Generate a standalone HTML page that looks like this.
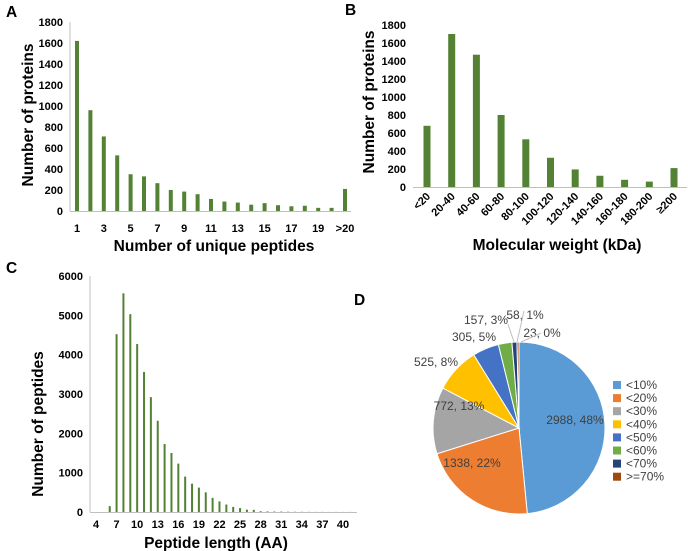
<!DOCTYPE html>
<html><head><meta charset="utf-8"><style>
html,body{margin:0;padding:0;background:#fff;}
svg{display:block;font-family:"Liberation Sans",Arial,sans-serif;}
.t{font-weight:bold;font-size:11px;fill:#000;}
.ttl{font-weight:bold;font-size:15.5px;fill:#000;}
.pl{font-size:12px;fill:#404040;}
</style></head><body>
<svg id="fig" width="688" height="551" viewBox="0 0 688 551">
<text x="6" y="17" class="ttl" font-size="14">A</text>
<text x="345" y="15" class="ttl">B</text>
<text x="6" y="273" class="ttl">C</text>
<text x="354" y="305" class="ttl">D</text>
<g id="gA"></g>
<g id="gB"></g>
<g id="gC"></g>
<g id="gD"></g>
</svg>
<script>
const aCats=["1","2","3","4","5","6","7","8","9","10","11","12","13","14","15","16","17","18","19","20",">20"];
const aVals=[1620,960,710,530,350,330,265,200,185,160,115,90,80,60,75,55,45,50,30,30,210];
const aTicks=[0,200,400,600,800,1000,1200,1400,1600,1800];
const bCats=["<20","20-40","40-60","60-80","80-100","100-120","120-140","140-160","160-180","180-200","≥200"];
const bVals=[680,1700,1470,800,530,325,195,125,80,60,210];
const bTicks=[0,200,400,600,800,1000,1200,1400,1600,1800];
const cCats=[];for(let k=4;k<=41;k++)cCats.push(String(k));
const cVals=[0,0,150,4520,5560,5030,4270,3560,2920,2320,1730,1500,1230,900,720,620,500,360,270,190,130,100,60,55,20,15,12,10,8,6,5,4,3,3,2,2,2,2];
const cTicks=[0,1000,2000,3000,4000,5000,6000];
const dCats=["<10%","<20%","<30%","<40%","<50%","<60%","<70%",">=70%"];
const dVals=[2988,1338,772,525,305,157,58,23];
const dPct=["48%","22%","13%","8%","5%","3%","1%","0%"];
const dColors=["#5B9BD5","#ED7D31","#A5A5A5","#FFC000","#4472C4","#70AD47","#264478","#9E480E"];
const NS="http://www.w3.org/2000/svg";
function mk(p,tag,at,txt){const e=document.createElementNS(NS,tag);for(const k in at)e.setAttribute(k,at[k]);if(txt!==undefined)e.textContent=txt;p.appendChild(e);return e;}

function bars(g,o){
  const y=v=>o.y0-(v/o.max)*(o.y0-o.yTop);
  const x=i=>o.x0+i*o.step;
  if(o.yLine){const l=mk(g,'line',{x1:o.ax,y1:o.yTop,x2:o.ax,y2:o.y0,stroke:'#bfbfbf','stroke-width':1});
  
  }
  const xl=mk(g,'line',{x1:o.ax,y1:o.y0+0.5,x2:o.axEnd,y2:o.y0+0.5,stroke:'#bfbfbf','stroke-width':1});
  
  
  o.ticks.forEach(t=>{const e=mk(g,'text',{x:o.ax-7,y:y(t)+4,'text-anchor':'end',class:'t','font-size':o.tf},t);
    
    });
  o.vals.forEach((v,i)=>{const r=mk(g,'rect',{x:x(i)-o.bw/2,y:y(v),width:o.bw,height:o.y0-y(v),fill:'#548235'});
    
    });
  o.cats.forEach((c,i)=>{if(!o.show(i))return;let e;
    if(o.rot){e=mk(g,'text',{x:x(i)+4,y:o.y0+10,'text-anchor':'end',class:'t',transform:`rotate(-45 ${x(i)+4} ${o.y0+10})`},c);}
    else e=mk(g,'text',{x:x(i),y:o.y0+o.ly,'text-anchor':'middle',class:'t','font-size':o.tf},c);
    
    });
  const xt=mk(g,'text',{x:o.xtX,y:o.xtY,'text-anchor':'middle',class:'ttl'},o.xt);
  
  
  const yt=mk(g,'text',{x:o.ytX,y:o.ytY,'text-anchor':'middle',class:'ttl',transform:`rotate(-90 ${o.ytX} ${o.ytY})`,'xml:space':'preserve'},o.yt);
  
  
}
bars(document.getElementById('gA'),{cats:aCats,vals:aVals,ticks:aTicks,max:1800,y0:211,yTop:22,x0:77,step:13.4,bw:4,ax:70,axEnd:351,yLine:true,tf:12,
  show:i=>i%2==0,ly:21,xt:'Number of unique peptides',xtX:214,xtY:251,yt:'Number of  proteins',ytX:33,ytY:115});
bars(document.getElementById('gB'),{cats:bCats,vals:bVals,ticks:bTicks,max:1800,y0:187,yTop:25,x0:427,step:24.7,bw:7,ax:413,axEnd:687,yLine:false,rot:true,tf:11,
  show:()=>true,ly:0,xt:'Molecular weight (kDa)',xtX:557,xtY:250,yt:'Number of  proteins',ytX:374,ytY:102});
bars(document.getElementById('gC'),{cats:cCats,vals:cVals,ticks:cTicks,max:6000,y0:512,yTop:276,x0:96,step:6.86,bw:2,ax:90,axEnd:357,yLine:true,tf:11,
  show:i=>i%3==0,ly:16,xt:'Peptide length (AA)',xtX:216,xtY:548,yt:'Number of peptides',ytX:43,ytY:424});

(function(){
  const g=document.getElementById('gD');
  const cx=519,cy=428,r=86;
  const tot=dVals.reduce((a,b)=>a+b,0);
  let a0=0;
  const lp=[[575,424],[472,467],[459,410],[436,366],[474,341],[486,324],[525,319],[542,337]];
  dVals.forEach((v,i)=>{
    const a1=a0+v/tot*2*Math.PI;
    const p=a=>[cx+r*Math.sin(a),cy-r*Math.cos(a)];
    const [x1,y1]=p(a0),[x2,y2]=p(a1);
    const s=mk(g,'path',{d:`M${cx},${cy}L${x1},${y1}A${r},${r} 0 ${a1-a0>Math.PI?1:0} 1 ${x2},${y2}Z`,fill:dColors[i],stroke:'#fff','stroke-width':1});
    
    
    a0=a1;
  });
  dVals.forEach((v,i)=>{
    const t=mk(g,'text',{x:lp[i][0],y:lp[i][1],'text-anchor':'middle',class:'pl'},dVals[i]+', '+dPct[i]);
    
    
  });
  mk(g,'polyline',{points:'508,324 514,342',fill:'none',stroke:'#bfbfbf'});
  mk(g,'polyline',{points:'524,311 517,342',fill:'none',stroke:'#bfbfbf'});
  mk(g,'polyline',{points:'541,333 521,342',fill:'none',stroke:'#bfbfbf'});
  dCats.forEach((c,i)=>{
    const yy=381+i*13.1;
    const s=mk(g,'rect',{x:613,y:yy,width:8,height:8,fill:dColors[i]});
    
    
    const t=mk(g,'text',{x:626,y:yy+8,class:'pl'},c);
    
    
  });
})();
</script>
</body></html>
